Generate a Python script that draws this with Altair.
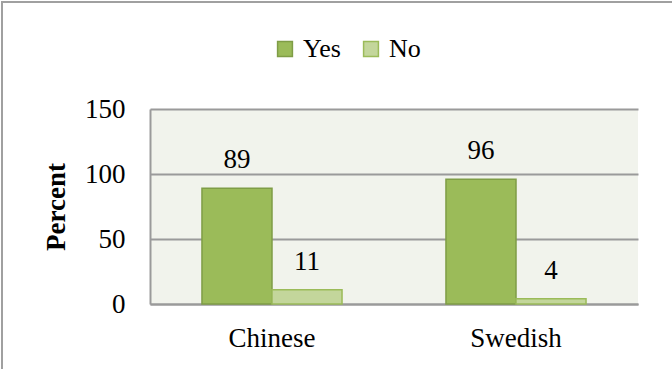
import altair as alt
import pandas as pd

languages = ["Chinese", "Swedish"]
responses = ["Yes", "No"]
yes_values = [89, 96]
no_values = [11, 4]
y_ticks = [0, 50, 100, 150]

rows = []
for i, lang in enumerate(languages):
    rows.append({"lang": lang, "resp": "Yes", "value": yes_values[i]})
    rows.append({"lang": lang, "resp": "No", "value": no_values[i]})
df = pd.DataFrame(rows)

FONT = "Liberation Serif"

x_enc = alt.X("lang:N", sort=languages, title=None,
              scale=alt.Scale(paddingInner=0.426, paddingOuter=0.213),
              axis=alt.Axis(labelAngle=0, labelPadding=21, ticks=False,
                            domainColor="#9a9a9a", domainWidth=2,
                            labelFontSize=27, labelFont=FONT, labelColor="#000"))
xoff = alt.XOffset("resp:N", sort=responses, scale=alt.Scale(paddingInner=0, paddingOuter=0))
y_enc = alt.Y("value:Q", title="Percent",
              scale=alt.Scale(domain=[0, 150], nice=False),
              axis=alt.Axis(values=y_ticks, ticks=False, labelPadding=25,
                            domainColor="#9a9a9a", domainWidth=2,
                            gridColor="#9a9a9a", gridWidth=2,
                            labelFontSize=27, labelFont=FONT, labelColor="#000",
                            titleFontSize=27, titleFont=FONT, titleFontWeight="bold",
                            titleColor="#000", titlePadding=14))
color = alt.Color("resp:N", sort=responses, title=None,
                  scale=alt.Scale(domain=responses, range=["#9BBB59", "#C3D69B"]),
                  legend=alt.Legend(orient="none", direction="horizontal",
                                    legendX=122, legendY=-73, padding=0,
                                    symbolType="square", symbolSize=220,
                                    symbolStrokeColor="#8DAA52", symbolStrokeWidth=1.5,
                                    labelFontSize=26, labelFont=FONT, labelColor="#000",
                                    labelOffset=5, columnPadding=17))
stroke = alt.Stroke("resp:N", sort=responses, legend=None,
                    scale=alt.Scale(domain=responses, range=["#7F9D46", "#9BBB59"]))

frame = alt.Chart(pd.DataFrame({"a": [0]})).mark_rect(
    fill="transparent", stroke="#a0a0a0", strokeWidth=2
).encode(x=alt.value(-148), x2=alt.value(560), y=alt.value(-107), y2=alt.value(300))

bars = alt.Chart(df).mark_bar(strokeWidth=1.5).encode(
    x=x_enc, xOffset=xoff, y=y_enc, color=color, stroke=stroke
)

labels = alt.Chart(df).mark_text(
    font=FONT, fontSize=27, color="#000", baseline="middle", dy=-28
).encode(x=alt.X("lang:N", sort=languages), xOffset=alt.XOffset("resp:N", sort=responses),
         y="value:Q", text="value:Q")

chart = alt.layer(frame, bars, labels).properties(
    width=488, height=195,
    autosize=alt.AutoSizeParams(type="none"),
    padding={"left": 150, "top": 109, "right": 34, "bottom": 65},
    background="white",
).configure_view(stroke=None, fill="#F1F3EC").configure_axisX(grid=False)

chart.save("out.html", embed_options={"renderer": "svg", "actions": False})
